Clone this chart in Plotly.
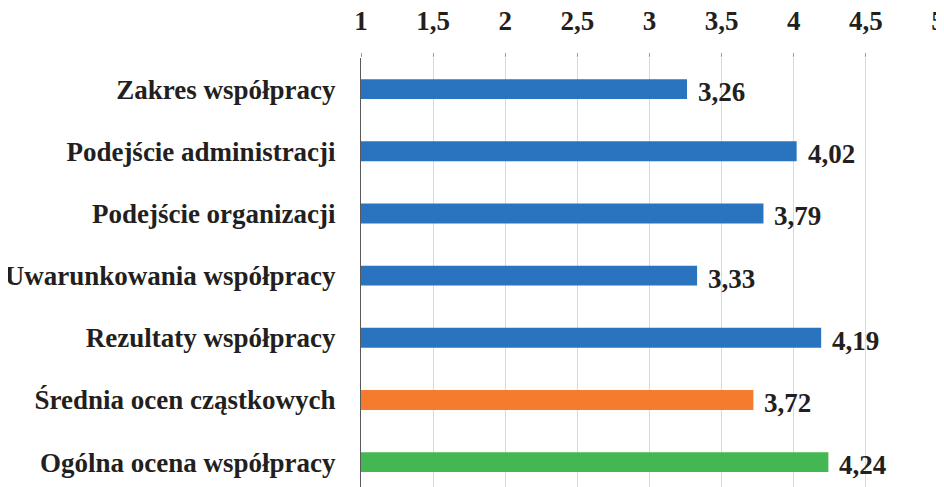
import plotly.graph_objects as go

categories = ["Zakres współpracy", "Podejście administracji", "Podejście organizacji",
              "Uwarunkowania współpracy", "Rezultaty współpracy",
              "Średnia ocen cząstkowych", "Ogólna ocena współpracy"]
values = [3.26, 4.02, 3.79, 3.33, 4.19, 3.72, 4.24]
colors = ["#2A74BF", "#2A74BF", "#2A74BF", "#2A74BF", "#2A74BF", "#F57B2F", "#43B751"]
tick_vals = [1, 1.5, 2, 2.5, 3, 3.5, 4, 4.5, 5]
tick_text = ["1", "1,5", "2", "2,5", "3", "3,5", "4", "4,5", "5"]
base = 1

font_family = "Liberation Serif"
txt_color = "#231F20"
fsize = 27

fig = go.Figure()
fig.add_trace(go.Bar(
    y=categories,
    x=[v - base for v in values],
    base=base,
    orientation="h",
    marker=dict(color=colors, line=dict(width=0)),
    width=0.32,
    hoverinfo="skip",
))

for cat, v in zip(categories, values):
    fig.add_annotation(
        x=v, y=cat, xref="x", yref="y",
        text=f"{v:.2f}".replace(".", ","),
        showarrow=False, xanchor="left", yanchor="middle",
        xshift=9, yshift=-3,
        font=dict(family=font_family, size=fsize, color=txt_color, weight="bold"),
    )

fig.update_layout(
    width=936, height=479,
    margin=dict(l=353, r=6, t=50, b=0, autoexpand=False),
    paper_bgcolor="white", plot_bgcolor="white",
    showlegend=False,
    font=dict(family=font_family, size=fsize, color=txt_color),
    separators=", ",
)
fig.update_xaxes(
    side="top", range=[1, 5], tickvals=tick_vals, ticktext=tick_text,
    showgrid=True, gridcolor="#D9D9D9", gridwidth=1,
    zeroline=False, showline=False,
    ticks="outside", ticklen=4, tickcolor="#999999",
    tickfont=dict(family=font_family, size=fsize, color=txt_color, weight="bold"),
    ticklabelstandoff=12, ticklabeloverflow="allow",
)
fig.update_yaxes(
    type="category", categoryorder="array", categoryarray=categories,
    range=[6.4, -0.5],
    showgrid=False, zeroline=False,
    showline=True, linecolor="#595959", linewidth=1,
    ticks="", ticklabelstandoff=19,
    tickfont=dict(family=font_family, size=fsize, color=txt_color, weight="bold"),
)

fig.write_html("out.html")
